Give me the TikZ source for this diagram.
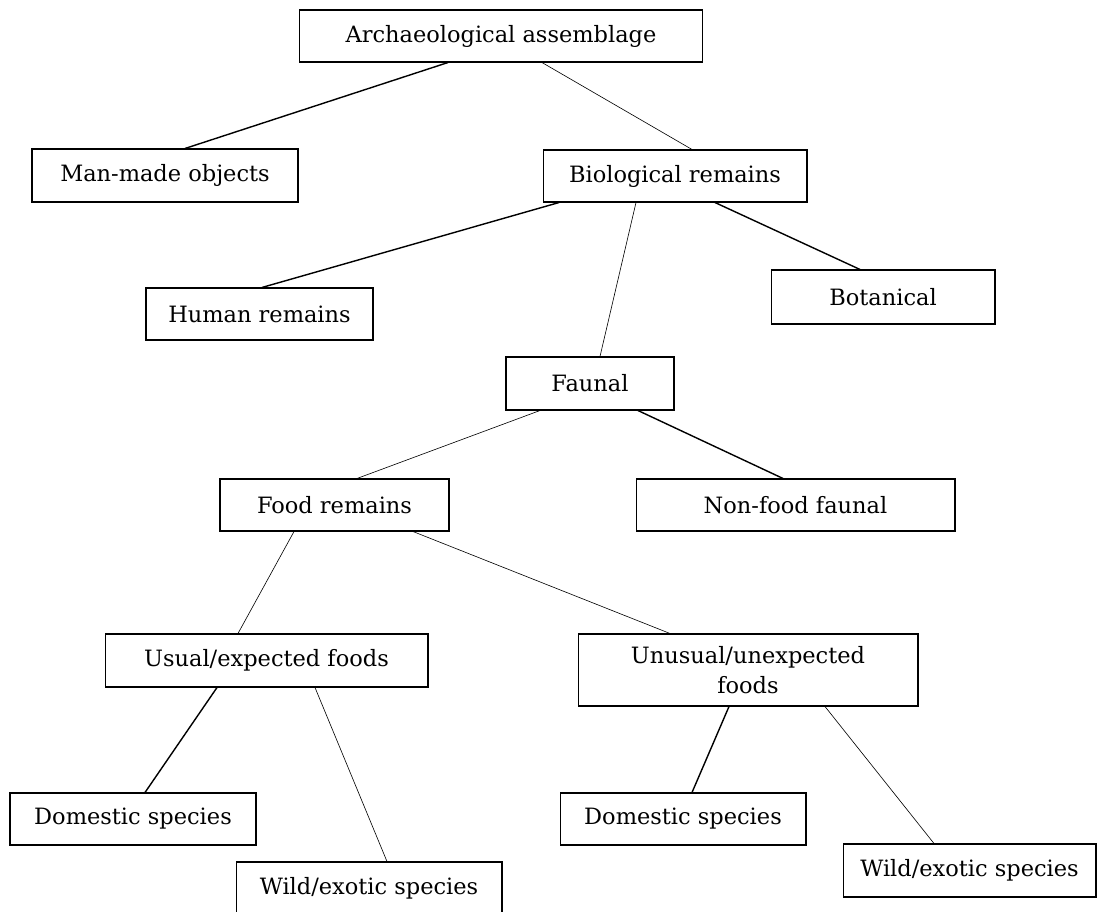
\documentclass[tikz,border=0pt]{standalone}
\usepackage{fontspec}
\setmainfont{DejaVu Serif}
\usepackage{tikz}
\usetikzlibrary{calc}
\tikzset{box/.style={draw,line width=0.6pt,inner sep=0pt,align=center},
	thinline/.style={line width=0.35pt},
	thickline/.style={line width=0.8pt},
}

\begin{document}
\begin{tikzpicture}[x=0.02cm,y=-0.02cm]
			\tikzstyle{every node}=[font=\fontsize{12.8}{17.5}\selectfont]
			\useasboundingbox (0,0) rectangle (1098,912);
			
			\node[box,minimum width=8.08cm,minimum height=1.04cm] (arch) at (501,36) {Archaeological assemblage};
			\node[box,minimum width=5.32cm,minimum height=1.06cm] (man) at (165,175.5) {Man-made objects};
			\node[box,minimum width=5.28cm,minimum height=1.04cm] (bio) at (675,176) {Biological remains};
			\node[box,minimum width=4.54cm,minimum height=1.04cm] (human) at (259.5,314) {Human remains};
			\node[box,minimum width=4.48cm,minimum height=1.08cm] (bot) at (883,297) {Botanical};
			\node[box,minimum width=3.36cm,minimum height=1.06cm] (faunal) at (590,383.5) {Faunal};
			\node[box,minimum width=4.58cm,minimum height=1.04cm] (food) at (334.5,505) {Food remains};
			\node[box,minimum width=6.38cm,minimum height=1.04cm] (nonfood) at (795.5,505) {Non-food faunal};
			\node[box,minimum width=6.46cm,minimum height=1.06cm] (usual) at (266.5,660.5) {Usual/expected foods};
			\node[box,minimum width=6.8cm,minimum height=1.44cm] (unusual) at (748,670) {Unusual/unexpected\\foods};
			\node[box,minimum width=4.92cm,minimum height=1.04cm] (domL) at (133,819) {Domestic species};
			\node[box,minimum width=5.32cm,minimum height=1.04cm] (wildL) at (369,888) {Wild/exotic species};
			\node[box,minimum width=4.92cm,minimum height=1.04cm] (domR) at (683,819) {Domestic species};
			\node[box,minimum width=5.06cm,minimum height=1.06cm] (wildR) at (969.5,870.5) {Wild/exotic species};
			
			%\draw[red] (0,0) rectangle (1098,912);
			\draw[thickline] ($(arch.south)+(-53,0)$) -- ($(man.north)+(20,0)$);
			\draw[thinline] ($(arch.south)+(41,0)$) -- ($(bio.north)+(17,0)$);
			\draw[thickline] ($(bio.south)+(-116,0)$) -- ($(human.north)+(2.5,0)$);
			\draw[thinline] ($(bio.south)+(-39,0)$) -- ($(faunal.north)+(10,0)$);
			\draw[thickline] ($(bio.south)+(40,0)$) -- ($(bot.north)+(-23,0)$);
			\draw[thinline] ($(faunal.south)+(-50,0)$) -- ($(food.north)+(22.5,0)$);
			\draw[thickline] ($(faunal.south)+(48,0)$) -- ($(nonfood.north)+(-12.5,0)$);
			\draw[thinline] ($(food.south)+(-40.5,0)$) -- ($(usual.north)+(-28.5,0)$);
			\draw[thinline] ($(food.south)+(78.5,0)$) -- ($(unusual.north)+(-78,0)$);
			\draw[thickline] ($(usual.south)+(-49.5,0)$) -- ($(domL.north)+(12,0)$);
			\draw[thinline] ($(usual.south)+(48.5,0)$) -- ($(wildL.north)+(18,0)$);
			\draw[thickline] ($(unusual.south)+(-19,0)$) -- ($(domR.north)+(9,0)$);
			\draw[thinline] ($(unusual.south)+(77,0)$) -- ($(wildR.north)+(-35.5,0)$);
			
			\end{tikzpicture}
\end{document}
